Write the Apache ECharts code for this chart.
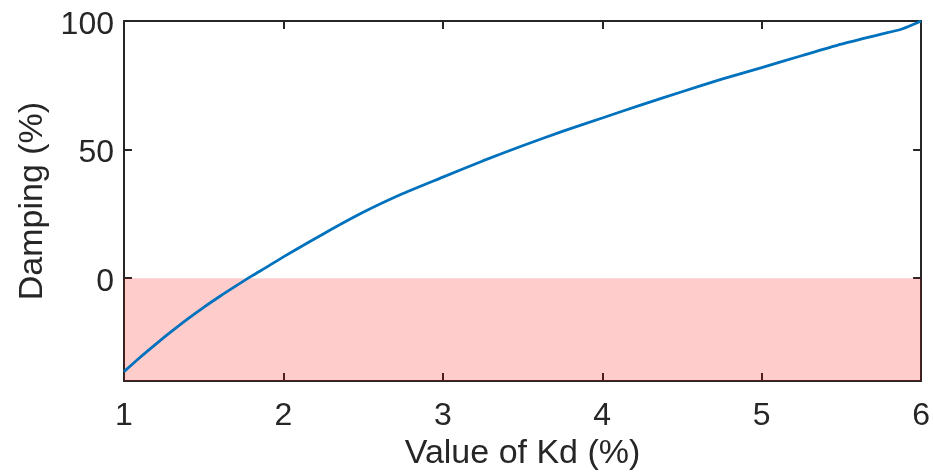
<!DOCTYPE html>
<html>
<head>
<meta charset="utf-8">
<script src="https://cdn.jsdelivr.net/npm/echarts@6/dist/echarts.min.js"></script>
<style>
html,body{margin:0;padding:0;background:#fff;}
#chart{width:933px;height:476px;}
</style>
</head>
<body>
<div id="chart"></div>
<script>
// Data
var kdValues = [1.00, 1.10, 1.20, 1.30, 1.40, 1.50, 1.60, 1.70, 1.80, 1.90, 2.00, 2.25, 2.50, 2.75, 3.00, 3.25, 3.50, 3.75, 4.00, 4.25, 4.50, 4.75, 5.00, 5.25, 5.50, 5.75, 5.88, 6.00];
var dampingValues = [-36.3, -30.8, -25.6, -20.6, -15.8, -11.3, -7.1, -3.1, 0.8, 4.5, 8.3, 17.2, 25.6, 32.9, 39.3, 45.6, 51.5, 57.1, 62.3, 67.5, 72.5, 77.4, 81.9, 86.5, 91.0, 94.9, 96.9, 100.0];
var xTicks = [1, 2, 3, 4, 5, 6];
var yTicks = [0, 50, 100];
var unstableBand = [-40, 0];
var xRange = [1, 6];
var yRange = [-40, 100];

var points = kdValues.map(function (x, i) { return [x, dampingValues[i]]; });

var axisColor = '#262626';
var font = 'Liberation Sans, Arial, Helvetica, sans-serif';

var chart = echarts.init(document.getElementById('chart'), null, {renderer: 'canvas'});
chart.setOption({
  animation: false,
  backgroundColor: '#ffffff',
  grid: {left: 124, right: 11, top: 21, bottom: 93, containLabel: false},
  xAxis: [{
    type: 'value', min: xRange[0], max: xRange[1], interval: 1,
    position: 'bottom',
    name: 'Value of Kd (%)', nameLocation: 'middle', nameGap: 55,
    nameTextStyle: {fontFamily: font, fontSize: 34, color: axisColor},
    axisLine: {show: true, onZero: false, lineStyle: {color: axisColor, width: 2}},
    axisTick: {show: true, inside: true, length: 8, lineStyle: {color: axisColor, width: 2}},
    axisLabel: {margin: 19, fontFamily: font, fontSize: 32, color: axisColor,
      customValues: xTicks},
    splitLine: {show: false}
  }, {
    type: 'value', min: xRange[0], max: xRange[1], interval: 1,
    position: 'top',
    axisLine: {show: true, onZero: false, lineStyle: {color: axisColor, width: 2}},
    axisTick: {show: true, inside: true, length: 8, lineStyle: {color: axisColor, width: 2}},
    axisLabel: {show: false},
    splitLine: {show: false}
  }],
  yAxis: [{
    type: 'value', min: yRange[0], max: yRange[1],
    position: 'left',
    name: 'Damping (%)', nameLocation: 'middle', nameGap: 72, nameRotate: 90,
    nameTextStyle: {fontFamily: font, fontSize: 34, color: axisColor},
    axisLine: {show: true, onZero: false, lineStyle: {color: axisColor, width: 2}},
    axisTick: {show: true, inside: true, length: 8, customValues: yTicks, lineStyle: {color: axisColor, width: 2}},
    axisLabel: {margin: 10, color: axisColor, customValues: yTicks,
      formatter: '{v|{value}}',
      rich: {v: {fontFamily: font, fontSize: 32, color: axisColor, padding: [8, 0, 0, 0]}}},
    splitLine: {show: false}
  }, {
    type: 'value', min: yRange[0], max: yRange[1],
    position: 'right',
    axisLine: {show: true, onZero: false, lineStyle: {color: axisColor, width: 2}},
    axisTick: {show: true, inside: true, length: 8, customValues: yTicks, lineStyle: {color: axisColor, width: 2}},
    axisLabel: {show: false},
    splitLine: {show: false}
  }],
  series: [{
    type: 'line',
    z: 2,
    xAxisIndex: 0, yAxisIndex: 0,
    data: points,
    showSymbol: false,
    smooth: 0.25,
    lineStyle: {color: '#0072BD', width: 2.8},
    silent: true
  }, {
    type: 'line',
    z: 10,
    xAxisIndex: 0, yAxisIndex: 0,
    data: [],
    silent: true,
    markArea: {
      silent: true,
      itemStyle: {color: 'rgba(255,0,0,0.2)'},
      data: [[{coord: [xRange[0], unstableBand[0]]}, {coord: [xRange[1], unstableBand[1]]}]]
    }
  }]
});
</script>
</body>
</html>
